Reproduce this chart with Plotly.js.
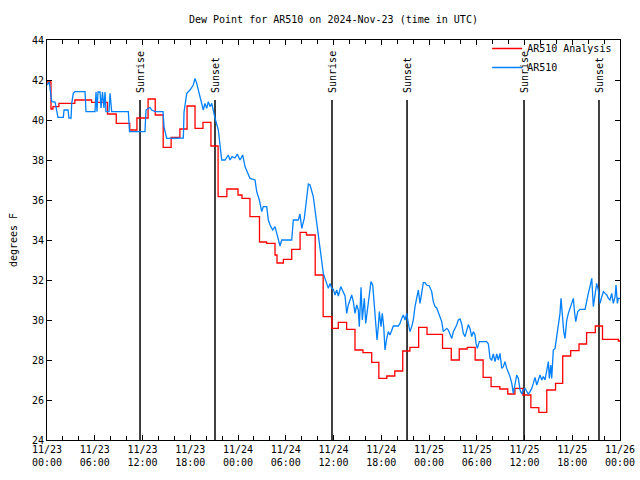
<!DOCTYPE html>
<html>
<head>
<meta charset="utf-8">
<script src="https://cdn.plot.ly/plotly-3.0.1.min.js"></script>
<style>html,body{margin:0;padding:0;background:#fff;}#chart{width:640px;height:480px;}</style>
</head>
<body>
<div id="chart"></div>
<script>
// Hours since 2024-11-23 00:00 UTC
const startDate = Date.UTC(2024, 10, 23, 0, 0, 0);

const analysisHours = [0,0.5,0.75,1.5,3.5,5.6,7.6,8.7,10.4,11.3,12.7,13.6,14.6,15.6,16.7,17.6,18.6,19.6,20.6,21.5,22.6,24.0,24.5,25.5,26.7,27.6,28.65,28.9,29.7,30.75,31.8,32.6,33.7,34.7,35.8,36.6,37.65,38.7,39.7,40.8,41.7,42.7,43.7,44.7,45.6,46.7,47.75,49.7,50.8,51.8,52.8,53.8,54.8,55.8,56.9,57.9,58.8,59.8,60.8,61.8,62.8,63.9,64.8,65.8,66.85,67.8,68.9,69.8,71.8,72];
const analysisValues = [41.9,40.55,40.67,40.83,41.0,40.88,40.3,39.83,39.5,40.1,41.05,40.25,38.63,39.13,39.55,40.7,39.58,39.88,38.7,36.17,36.55,36.25,36.08,35.17,33.9,33.83,33.25,32.85,33.03,33.53,34.38,34.25,32.25,30.17,29.58,29.88,29.53,28.5,28.37,27.88,27.08,27.2,27.45,28.45,28.63,29.63,29.28,28.58,28.0,28.55,28.63,28.0,27.13,26.67,26.55,26.3,26.58,26.25,25.62,25.38,26.5,26.83,28.2,28.47,28.8,29.37,29.7,29.03,28.95,28.95];

const obsHours = [0,0.29,0.59,1.01,1.38,2.05,2.14,2.64,2.76,3.02,3.10,3.30,3.52,4.78,4.90,6.03,6.16,6.28,6.41,6.66,6.79,6.97,7.16,7.29,7.41,7.79,7.92,8.13,10.22,10.37,12.31,12.44,12.94,13.16,13.57,14.58,14.70,15.04,17.13,17.22,17.56,17.97,18.38,18.60,18.81,19.22,19.64,19.85,20.07,20.27,20.48,20.70,20.90,21.11,21.53,21.74,21.95,22.37,22.78,23.00,23.25,23.62,23.91,24.25,24.59,24.88,25.30,25.51,26.14,26.35,26.68,26.98,27.18,27.61,27.81,28.03,28.36,28.65,28.87,29.28,29.49,30.75,30.95,31.58,31.79,32.01,32.33,32.63,32.84,33.05,33.46,33.68,33.89,34.09,34.30,34.52,34.72,34.93,35.15,35.35,35.56,35.78,35.98,36.19,36.40,36.61,36.91,37.16,37.45,37.66,37.86,38.08,38.29,38.49,38.70,38.92,39.12,39.24,39.46,39.62,39.87,40.05,40.30,40.50,40.71,40.93,41.13,41.31,41.47,41.63,41.76,41.97,42.13,42.31,42.47,42.69,42.89,43.10,43.32,43.52,44.14,44.36,44.57,44.77,44.99,45.20,45.40,45.61,45.83,46.03,46.24,46.46,46.66,46.87,47.09,47.29,47.50,47.71,48.04,48.34,48.54,48.76,48.97,49.17,49.38,49.60,49.80,50.01,50.23,50.43,50.64,50.86,51.06,51.27,51.48,51.68,51.90,52.11,52.31,52.53,52.74,52.94,53.15,53.37,53.57,53.78,53.91,54.07,54.32,55.25,55.46,55.67,55.88,56.08,56.30,56.51,56.71,56.92,57.14,57.34,57.55,57.77,58.18,58.40,58.60,58.81,59.02,59.23,59.44,59.65,59.85,60.07,60.28,60.48,60.69,60.91,61.11,61.32,61.54,61.74,61.95,62.17,62.37,62.58,62.79,63.00,63.12,63.30,63.42,63.62,63.84,64.05,64.25,64.46,64.59,64.75,64.93,65.09,65.31,65.51,65.72,65.93,66.14,66.26,66.44,66.69,66.98,67.61,67.82,68.02,68.23,68.45,68.65,68.86,69.07,69.28,69.49,69.71,69.91,70.12,70.34,70.54,70.75,70.96,71.16,71.38,71.50,71.67,71.79,72.00];
const obsValues = [41.75,41.9,40.92,40.9,40.13,40.13,40.5,40.5,40.1,40.1,40.8,41.33,41.42,41.42,40.42,40.42,41.4,40.42,41.4,41.4,40.6,41.4,40.6,41.4,40.42,40.42,41.33,40.42,40.42,39.42,39.42,40.5,40.63,40.5,40.42,40.42,39.67,39.08,39.1,40.4,41.33,41.5,41.75,42.08,41.83,41.17,40.5,40.83,40.58,40.92,40.67,40.83,40.4,40.1,39.5,38.83,38.0,38.0,38.25,38.0,38.17,38.1,38.3,38.0,38.25,37.67,37.33,37.08,37.0,36.42,36.0,35.42,35.67,35.67,35.0,34.75,34.5,34.67,34.33,33.7,34.0,34.0,35.0,35.0,35.3,34.58,35.08,36.0,36.8,36.75,36.17,35.5,34.83,34.17,33.5,32.83,32.33,32.08,31.83,31.58,31.83,31.58,31.53,31.25,31.5,31.2,31.67,31.45,31.2,30.33,30.75,31.0,31.25,30.92,30.33,30.75,30.5,29.67,31.63,30.0,31.08,29.83,30.58,31.08,31.92,31.75,30.75,29.83,29.0,29.67,30.42,29.67,30.33,29.67,28.5,29.08,29.42,29.25,29.5,29.7,29.7,29.83,30.08,30.25,30.0,30.33,29.83,29.42,29.67,30.0,30.67,31.17,31.5,30.83,31.33,31.87,31.87,31.75,31.7,31.42,30.92,30.67,30.6,30.37,30.17,29.92,29.42,29.5,29.58,29.5,29.33,29.08,29.42,29.55,29.75,30.0,30.05,29.8,29.33,29.17,29.5,29.77,29.58,29.17,29.42,29.25,28.83,28.58,28.92,28.92,28.8,28.08,28.0,28.3,27.92,28.3,28.0,28.33,27.58,27.67,27.92,27.58,27.17,26.83,26.33,26.75,27.25,27.08,26.5,26.3,26.5,26.58,26.42,26.3,26.42,26.58,26.83,27.13,26.75,27.0,27.25,27.0,27.17,27.0,27.5,27.92,27.08,27.75,27.08,28.5,28.58,29.17,29.58,30.33,31.08,30.0,29.42,29.08,30.0,30.33,30.58,30.83,31.08,30.5,29.92,30.42,30.53,30.53,31.0,31.33,31.67,32.08,30.67,31.33,31.83,31.5,30.83,31.17,31.42,31.33,31.25,31.08,31.0,31.33,30.83,31.17,31.75,30.83,31.08,31.08];

const sunHours = [11.69, 21.11, 35.81, 45.24, 59.94, 69.36];
const sunLabels = ["Sunrise", "Sunset", "Sunrise", "Sunset", "Sunrise", "Sunset"];

const yTickVals = [24,26,28,30,32,34,36,38,40,42,44];

function toTime(h) {
  return new Date(startDate + h * 3600000).toISOString().replace('T', ' ').slice(0, 19);
}

const FONT = "DejaVu Sans Mono, monospace";

const traces = [
  {
    x: analysisHours.map(toTime), y: analysisValues,
    type: 'scatter', mode: 'lines', name: 'AR510 Analysis',
    line: {color: '#ff0000', width: 1.3, shape: 'hv'}
  },
  {
    x: obsHours.map(toTime), y: obsValues,
    type: 'scatter', mode: 'lines', name: 'AR510',
    line: {color: '#0080ff', width: 1.3}
  }
];

const shapes = sunHours.map(h => ({
  type: 'line', xref: 'x', yref: 'y', layer: 'below',
  x0: toTime(h), x1: toTime(h), y0: 24, y1: 41,
  line: {color: '#000', width: 1.5}
}));

const annotations = sunHours.map((h, i) => ({
  x: toTime(h), y: 41.25, xref: 'x', yref: 'y',
  text: sunLabels[i], showarrow: false, textangle: -90,
  xanchor: 'center', yanchor: 'bottom',
  font: {family: FONT, size: 10, color: '#000'}
}));

const layout = {
  width: 640, height: 480,
  margin: {l: 47, r: 20, t: 40, b: 40},
  paper_bgcolor: '#fff', plot_bgcolor: '#fff',
  font: {family: FONT, size: 10, color: '#000'},
  title: {text: 'Dew Point for AR510 on 2024-Nov-23 (time in UTC)', x: 0.521, xanchor: 'center', y: 0.96, yanchor: 'middle', font: {family: FONT, size: 10}},
  showlegend: true,
  legend: {x: 0.995, xanchor: 'right', y: 1.015, yanchor: 'top', bgcolor: 'rgba(0,0,0,0)', font: {family: FONT, size: 10}, tracegroupgap: 0, itemwidth: 30},
  xaxis: {
    type: 'date',
    range: [toTime(0), toTime(72)],
    tick0: toTime(0), dtick: 6 * 3600000,
    tickformat: '%m/%d<br>%H:%M',
    ticks: 'inside', ticklen: 5, tickcolor: '#000',
    minor: {dtick: 2 * 3600000, ticks: 'inside', ticklen: 4, tickcolor: '#000'},
    showline: true, linecolor: '#000', linewidth: 1, mirror: 'ticks',
    showgrid: false, zeroline: false,
    tickfont: {family: FONT, size: 10}
  },
  yaxis: {
    range: [24, 44],
    tickvals: yTickVals,
    ticks: 'inside', ticklen: 5, tickcolor: '#000',
    showline: true, linecolor: '#000', linewidth: 1, mirror: 'ticks',
    showgrid: false, zeroline: false,
    title: {text: 'degrees F', font: {family: FONT, size: 10}, standoff: 12},
    tickfont: {family: FONT, size: 10}
  },
  shapes: shapes,
  annotations: annotations
};

Plotly.newPlot('chart', traces, layout, {displayModeBar: false, staticPlot: true});
</script>
</body>
</html>
